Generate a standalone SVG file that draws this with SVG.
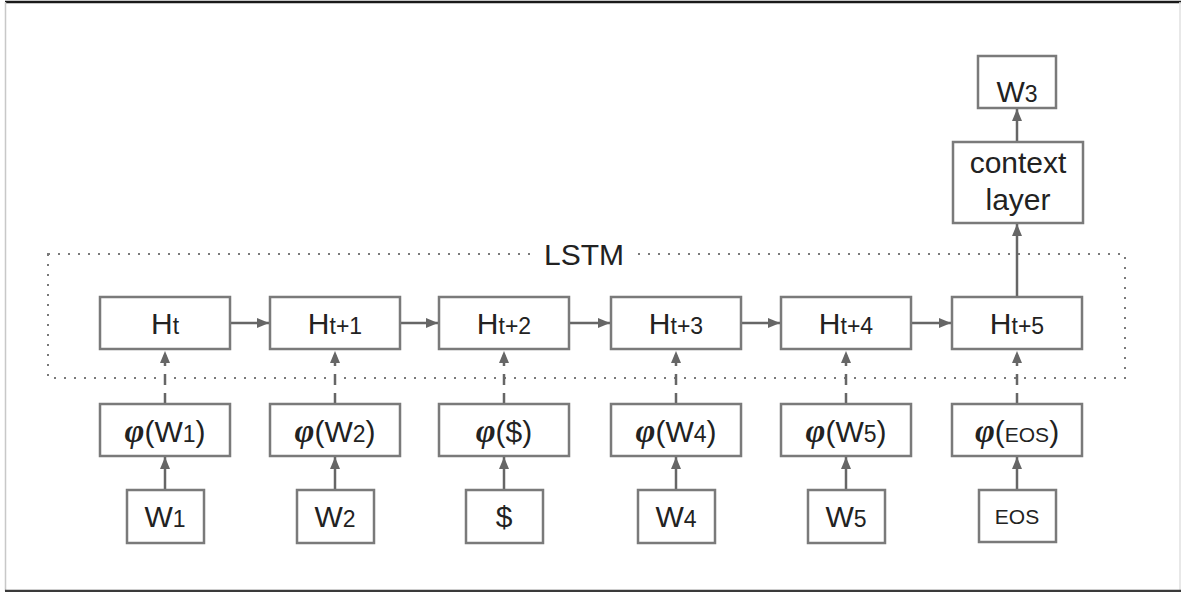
<svg xmlns="http://www.w3.org/2000/svg" width="1181" height="592" viewBox="0 0 1181 592">
  <defs>
    <marker id="arrow" viewBox="0 0 12 10" refX="12" refY="5" markerWidth="12" markerHeight="10" markerUnits="userSpaceOnUse" orient="auto">
      <path d="M0,0 L12,5 L0,10 Z" fill="#666"/>
    </marker>
    <style>
      .box { fill: #fff; stroke: #7a7a7a; stroke-width: 2.5; }
      .lbl { font-family: "Liberation Sans", Arial, sans-serif; font-size: 30px; fill: #222; text-anchor: middle; }
      .sub { font-size: 23px; }
      .small { font-size: 21px; }
      .phi { font-family: "Liberation Serif", "DejaVu Serif", serif; font-weight: bold; font-style: italic; font-size: 34px; }
      .conn { stroke: #666; stroke-width: 2.5; fill: none; }
      .solid { marker-end: url(#arrow); }
      .dashed { stroke-dasharray: 11 8; marker-end: url(#arrow); }
      .lstm { fill: none; stroke: #7a7a7a; stroke-width: 2; stroke-dasharray: 2 8; }
    </style>
  </defs>

  <rect width="1181" height="592" fill="#fff"/>
  <!-- outer frame -->
  <line x1="5" y1="2" x2="1181" y2="2" stroke="#1a1a1a" stroke-width="2.5"/>
  <line x1="5.5" y1="2" x2="5.5" y2="591" stroke="#c8c8c8" stroke-width="1.5"/>
  <line x1="1180" y1="2" x2="1180" y2="591" stroke="#e0e0e0" stroke-width="1.5"/>
  <line x1="5" y1="591" x2="1181" y2="591" stroke="#3a3a3a" stroke-width="2.5"/>

  <!-- LSTM region -->
  <g id="lstm">
    <rect class="lstm" x="48" y="254" width="1077" height="124"/>
    <rect x="538" y="240" width="92" height="28" fill="#fff"/>
    <text class="lbl" x="584" y="265">LSTM</text>
  </g>

  <!-- connectors -->
  <g id="connectors">
    <!-- recurrent links between hidden states -->
    <line class="conn solid" x1="231" y1="323" x2="269" y2="323"/>
    <line class="conn solid" x1="401" y1="323" x2="438" y2="323"/>
    <line class="conn solid" x1="570" y1="323" x2="610" y2="323"/>
    <line class="conn solid" x1="742" y1="323" x2="780" y2="323"/>
    <line class="conn solid" x1="912" y1="323" x2="951" y2="323"/>
    <!-- embeddings into hidden states -->
    <line class="conn dashed" x1="165" y1="404" x2="165" y2="351"/>
    <line class="conn dashed" x1="335" y1="404" x2="335" y2="351"/>
    <line class="conn dashed" x1="504" y1="404" x2="504" y2="351"/>
    <line class="conn dashed" x1="676" y1="404" x2="676" y2="351"/>
    <line class="conn dashed" x1="846" y1="404" x2="846" y2="351"/>
    <line class="conn dashed" x1="1017" y1="404" x2="1017" y2="351"/>
    <!-- words into embeddings -->
    <line class="conn solid" x1="165" y1="490" x2="165" y2="457"/>
    <line class="conn solid" x1="335" y1="490" x2="335" y2="457"/>
    <line class="conn solid" x1="504" y1="490" x2="504" y2="457"/>
    <line class="conn solid" x1="676" y1="490" x2="676" y2="457"/>
    <line class="conn solid" x1="846" y1="490" x2="846" y2="457"/>
    <line class="conn solid" x1="1017" y1="490" x2="1017" y2="457"/>
    <!-- last state to context layer to output -->
    <line class="conn solid" x1="1017" y1="297" x2="1017" y2="224"/>
    <line class="conn solid" x1="1017" y1="142" x2="1017" y2="109"/>
  </g>

  <!-- hidden states -->
  <g id="h0"><rect class="box" x="100" y="297" width="130" height="52"/><text class="lbl" x="165" y="334">H<tspan class="sub">t</tspan></text></g>
  <g id="h1"><rect class="box" x="270" y="297" width="130" height="52"/><text class="lbl" x="335" y="334">H<tspan class="sub">t+1</tspan></text></g>
  <g id="h2"><rect class="box" x="439" y="297" width="130" height="52"/><text class="lbl" x="504" y="334">H<tspan class="sub">t+2</tspan></text></g>
  <g id="h3"><rect class="box" x="611" y="297" width="130" height="52"/><text class="lbl" x="676" y="334">H<tspan class="sub">t+3</tspan></text></g>
  <g id="h4"><rect class="box" x="781" y="297" width="130" height="52"/><text class="lbl" x="846" y="334">H<tspan class="sub">t+4</tspan></text></g>
  <g id="h5"><rect class="box" x="952" y="297" width="130" height="52"/><text class="lbl" x="1017" y="334">H<tspan class="sub">t+5</tspan></text></g>

  <!-- embeddings -->
  <g id="e1"><rect class="box" x="100" y="404" width="130" height="52"/><text class="lbl" x="165" y="442"><tspan class="phi">φ</tspan>(W<tspan class="sub">1</tspan>)</text></g>
  <g id="e2"><rect class="box" x="270" y="404" width="130" height="52"/><text class="lbl" x="335" y="442"><tspan class="phi">φ</tspan>(W<tspan class="sub">2</tspan>)</text></g>
  <g id="e3"><rect class="box" x="439" y="404" width="130" height="52"/><text class="lbl" x="504" y="442"><tspan class="phi">φ</tspan>($)</text></g>
  <g id="e4"><rect class="box" x="611" y="404" width="130" height="52"/><text class="lbl" x="676" y="442"><tspan class="phi">φ</tspan>(W<tspan class="sub">4</tspan>)</text></g>
  <g id="e5"><rect class="box" x="781" y="404" width="130" height="52"/><text class="lbl" x="846" y="442"><tspan class="phi">φ</tspan>(W<tspan class="sub">5</tspan>)</text></g>
  <g id="e6"><rect class="box" x="952" y="404" width="130" height="52"/><text class="lbl" x="1017" y="442"><tspan class="phi">φ</tspan>(<tspan class="small">EOS</tspan>)</text></g>

  <!-- input words -->
  <g id="w1"><rect class="box" x="127" y="490" width="77" height="53"/><text class="lbl" x="165" y="527">W<tspan class="sub">1</tspan></text></g>
  <g id="w2"><rect class="box" x="297" y="490" width="77" height="53"/><text class="lbl" x="335" y="527">W<tspan class="sub">2</tspan></text></g>
  <g id="w3in"><rect class="box" x="466" y="490" width="77" height="53"/><text class="lbl" x="504" y="527">$</text></g>
  <g id="w4"><rect class="box" x="638" y="490" width="77" height="53"/><text class="lbl" x="676" y="527">W<tspan class="sub">4</tspan></text></g>
  <g id="w5"><rect class="box" x="808" y="490" width="77" height="53"/><text class="lbl" x="846" y="527">W<tspan class="sub">5</tspan></text></g>
  <g id="eos"><rect class="box" x="979" y="490" width="77" height="52"/><text class="lbl small" x="1017" y="524">EOS</text></g>

  <!-- context layer and predicted word -->
  <g id="context"><rect class="box" x="953" y="142" width="130" height="81"/><text class="lbl" x="1018" y="173">context</text><text class="lbl" x="1018" y="210">layer</text></g>
  <g id="w3out"><rect class="box" x="978" y="56" width="78" height="52"/><text class="lbl" x="1017" y="102">W<tspan class="sub">3</tspan></text></g>
</svg>
